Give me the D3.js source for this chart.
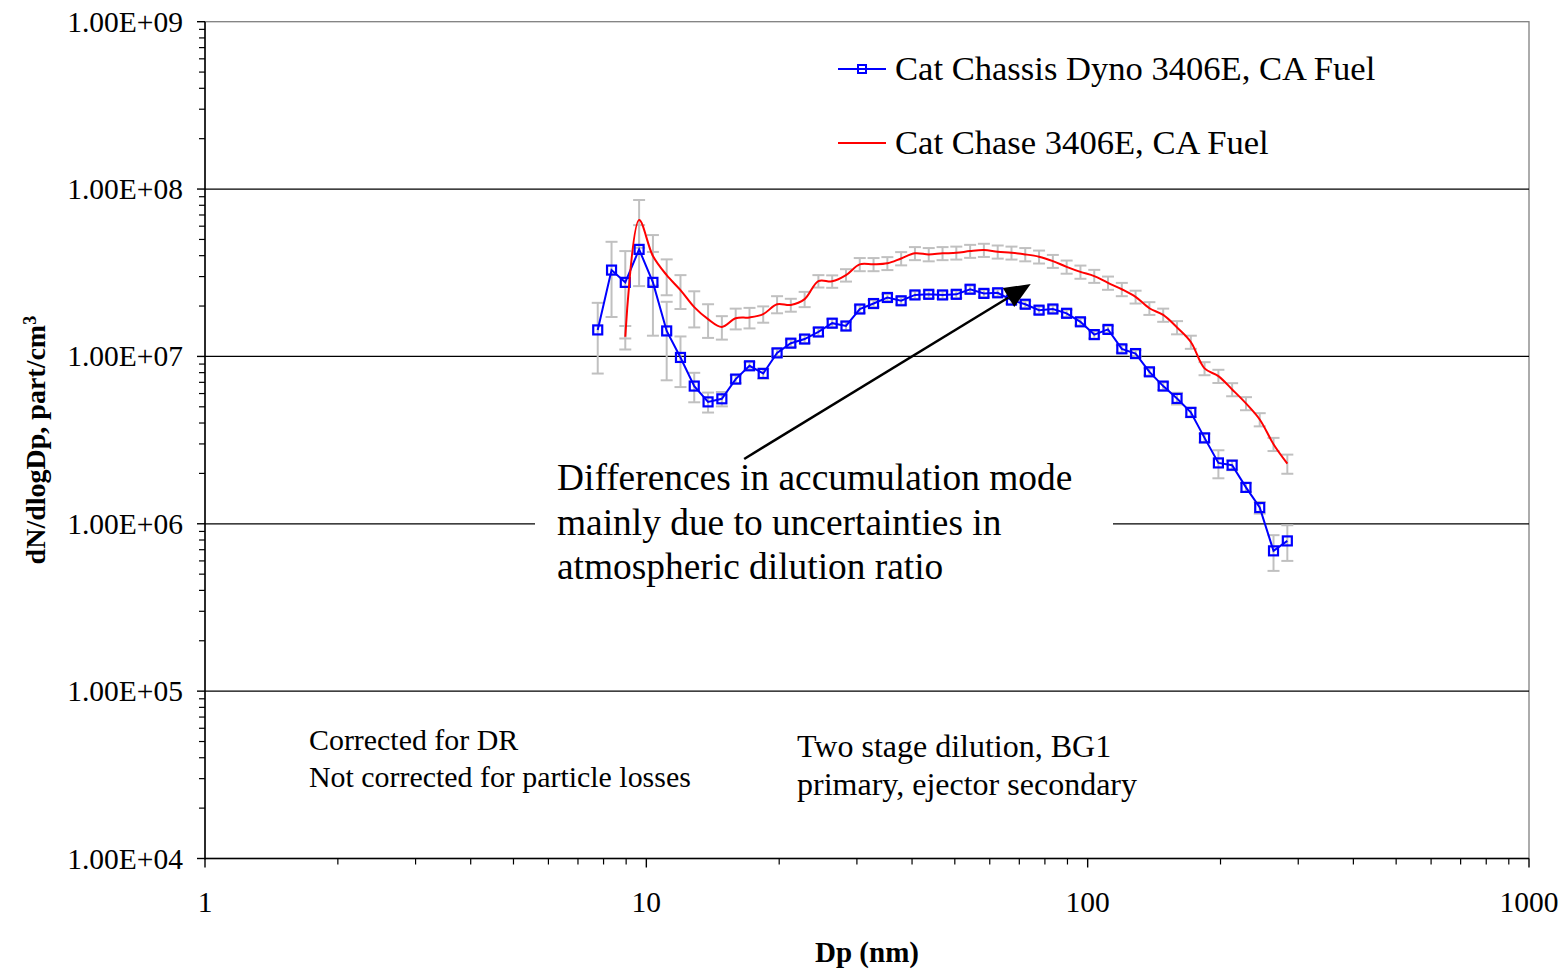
<!DOCTYPE html>
<html>
<head>
<meta charset="utf-8">
<script src="https://cdn.jsdelivr.net/npm/d3@7"></script>
<style>
  html, body { margin: 0; padding: 0; background: #fff; }
  svg { display: block; }
  text { font-family: "Liberation Serif", "Times New Roman", serif; fill: #000; }
</style>
</head>
<body>
<svg id="chart" width="1567" height="969"></svg>
<script>
// ---------------- data ----------------
const diameters = [7.76, 8.34, 8.96, 9.63, 10.35, 11.12, 11.95, 12.84, 13.80, 14.83, 15.94, 17.13, 18.40, 19.78, 21.25, 22.84, 24.54, 26.37, 28.34, 30.45, 32.72, 35.17, 37.79, 40.61, 43.64, 46.90, 50.39, 54.16, 58.19, 62.54, 67.20, 72.21, 77.60, 83.39, 89.61, 96.30, 103.5, 111.2, 119.5, 128.4, 138.0, 148.3, 159.4, 171.3, 184.0, 197.8, 212.5, 228.4, 245.4, 263.7, 283.4];

const dynoValues = [1.44e7, 3.28e7, 2.77e7, 4.36e7, 2.77e7, 1.42e7, 9.86e6, 6.65e6, 5.35e6, 5.58e6, 7.32e6, 8.79e6, 7.91e6, 1.05e7, 1.20e7, 1.27e7, 1.40e7, 1.58e7, 1.52e7, 1.92e7, 2.07e7, 2.25e7, 2.15e7, 2.33e7, 2.35e7, 2.33e7, 2.35e7, 2.52e7, 2.38e7, 2.40e7, 2.17e7, 2.05e7, 1.89e7, 1.92e7, 1.81e7, 1.61e7, 1.35e7, 1.45e7, 1.11e7, 1.04e7, 8.09e6, 6.65e6, 5.61e6, 4.63e6, 3.26e6, 2.31e6, 2.24e6, 1.65e6, 1.25e6, 6.89e5, 7.90e5];
const dynoErrors = [6.5e6, 1.56e7, 1.49e7, 1.73e7, 1.44e7, 7.0e6, 3.3e6, 1.33e6, 7.3e5, 5.5e5, 4.0e5, 4.5e5, 5.5e5, 6.0e5, 6.0e5, 7.0e5, 8.0e5, 9.0e5, 9.0e5, 1.0e6, 1.0e6, 1.1e6, 1.1e6, 1.2e6, 1.2e6, 1.2e6, 1.2e6, 1.3e6, 1.2e6, 1.2e6, 1.1e6, 1.0e6, 9.5e5, 9.5e5, 9.0e5, 8.0e5, 7.0e5, 7.0e5, 5.5e5, 5.0e5, 4.0e5, 3.5e5, 4.5e5, 3.0e5, 2.0e5, 4.4e5, 1.5e5, 1.0e5, 1.0e5, 1.66e5, 1.9e5];

const chaseValues = [null, null, 1.31e7, 6.53e7, 3.98e7, 3.06e7, 2.49e7, 1.97e7, 1.67e7, 1.50e7, 1.69e7, 1.71e7, 1.79e7, 2.05e7, 2.03e7, 2.20e7, 2.82e7, 2.81e7, 3.06e7, 3.55e7, 3.55e7, 3.60e7, 3.85e7, 4.13e7, 4.07e7, 4.13e7, 4.16e7, 4.26e7, 4.32e7, 4.22e7, 4.16e7, 4.07e7, 3.94e7, 3.71e7, 3.43e7, 3.20e7, 3.02e7, 2.75e7, 2.52e7, 2.27e7, 1.94e7, 1.77e7, 1.49e7, 1.22e7, 8.48e6, 7.63e6, 6.35e6, 5.24e6, 4.20e6, 2.99e6, 2.29e6];
const chaseErrors = [null, null, 2.1e6, 2.07e7, 1.33e7, 7.4e6, 5.7e6, 4.8e6, 3.8e6, 2.4e6, 2.4e6, 2.4e6, 2.0e6, 2.4e6, 1.8e6, 2.3e6, 2.4e6, 2.4e6, 2.6e6, 3.2e6, 3.2e6, 3.2e6, 3.5e6, 3.7e6, 3.7e6, 3.7e6, 3.7e6, 3.8e6, 3.9e6, 3.8e6, 3.7e6, 3.7e6, 3.5e6, 3.3e6, 3.1e6, 2.9e6, 2.7e6, 2.5e6, 2.3e6, 2.0e6, 1.7e6, 1.6e6, 1.35e6, 1.1e6, 7.6e5, 6.9e5, 5.7e5, 4.7e5, 3.8e5, 2.7e5, 3.0e5];

const seriesNames = ["Cat Chassis Dyno 3406E, CA Fuel", "Cat Chase 3406E, CA Fuel"];
const xTickValues = [1, 10, 100, 1000];
const xTickLabels = ["1", "10", "100", "1000"];
const yTickValues = [1e4, 1e5, 1e6, 1e7, 1e8, 1e9];
const yTickLabels = ["1.00E+04", "1.00E+05", "1.00E+06", "1.00E+07", "1.00E+08", "1.00E+09"];
const xTitle = "Dp (nm)";
const yTitle = "dN/dlogDp, part/cm";
const annotationLines = ["Differences in accumulation mode", "mainly due to uncertainties in", "atmospheric dilution ratio"];
const arrowFrom = [16.66, 2.44e6];
const arrowTo = [74.3, 2.71e7];
const noteLeft = ["Corrected for DR", "Not corrected for particle losses"];
const noteRight = ["Two stage dilution, BG1", "primary, ejector secondary"];

(function () {
// ---------------- layout ----------------
const svg = d3.select("#chart");
const pL = 205, pR = 1529, pT = 21.7, pB = 858.5;
const x = d3.scaleLog().domain([1, 1000]).range([pL, pR]);
const y = d3.scaleLog().domain([1e4, 1e9]).range([pB, pT]);

const BLUE = "#0000ff", RED = "#ff0000", GREY = "#c0c0c0";

// plot border (grey)
svg.append("rect").attr("x", pL).attr("y", pT).attr("width", pR - pL).attr("height", pB - pT)
  .attr("fill", "#fff").attr("stroke", "#808080").attr("stroke-width", 1.3);

// gridlines
svg.append("g").selectAll("line").data(yTickValues.filter(v => v > 1e4 && v < 1e9)).join("line")
  .attr("x1", pL).attr("x2", pR).attr("y1", d => y(d)).attr("y2", d => y(d))
  .attr("stroke", "#000").attr("stroke-width", 1.2);

// y axis
const yMinor = [];
for (let e = 4; e < 9; e++) for (let m = 2; m <= 9; m++) yMinor.push(m * Math.pow(10, e));
const yAxis = svg.append("g");
yAxis.append("line").attr("x1", pL).attr("x2", pL).attr("y1", pT).attr("y2", pB + 1).attr("stroke", "#000").attr("stroke-width", 1.5);
yAxis.selectAll(".ymin").data(yMinor).join("line").attr("class", "ymin")
  .attr("x1", pL - 6).attr("x2", pL).attr("y1", d => y(d)).attr("y2", d => y(d)).attr("stroke", "#000").attr("stroke-width", 1.2);
yAxis.selectAll(".ymaj").data(yTickValues).join("line").attr("class", "ymaj")
  .attr("x1", pL - 8).attr("x2", pL).attr("y1", d => y(d)).attr("y2", d => y(d)).attr("stroke", "#000").attr("stroke-width", 1.4);
yAxis.selectAll("text").data(yTickValues).join("text")
  .attr("x", 183).attr("y", d => y(d)).attr("dy", "0.34em").attr("text-anchor", "end")
  .style("font-size", "29.5px").text((d, i) => yTickLabels[i]);

// x axis
const xMinor = [];
for (let e = 0; e < 3; e++) for (let m = 2; m <= 9; m++) xMinor.push(m * Math.pow(10, e));
const xAxis = svg.append("g");
xAxis.append("line").attr("x1", pL).attr("x2", pR).attr("y1", pB).attr("y2", pB).attr("stroke", "#000").attr("stroke-width", 1.5);
xAxis.selectAll(".xmin").data(xMinor).join("line").attr("class", "xmin")
  .attr("x1", d => x(d)).attr("x2", d => x(d)).attr("y1", pB).attr("y2", pB + 6).attr("stroke", "#000").attr("stroke-width", 1.2);
xAxis.selectAll(".xmaj").data(xTickValues).join("line").attr("class", "xmaj")
  .attr("x1", d => x(d)).attr("x2", d => x(d)).attr("y1", pB).attr("y2", pB + 9).attr("stroke", "#000").attr("stroke-width", 1.4);
xAxis.selectAll("text").data(xTickValues).join("text")
  .attr("x", d => x(d)).attr("y", 912).attr("text-anchor", "middle")
  .style("font-size", "29.5px").text((d, i) => xTickLabels[i]);

// axis titles
svg.append("text").attr("x", (pL + pR) / 2).attr("y", 962).attr("text-anchor", "middle")
  .style("font-size", "29px").style("font-weight", "bold").text(xTitle);
const yt = svg.append("text").attr("transform", `translate(45,${(pT + pB) / 2}) rotate(-90)`)
  .attr("text-anchor", "middle").style("font-size", "28px").style("font-weight", "bold");
yt.append("tspan").text(yTitle);
yt.append("tspan").attr("dy", "-0.5em").style("font-size", "18px").text("3");

// ---------------- data marks ----------------
const dyno = diameters.map((d, i) => ({ x: d, v: dynoValues[i], e: dynoErrors[i] }));
const chase = diameters.map((d, i) => ({ x: d, v: chaseValues[i], e: chaseErrors[i] })).filter(p => p.v != null);

function errorBars(g, data) {
  const cap = 6;
  const grp = g.append("g").attr("stroke", GREY).attr("stroke-width", 2);
  data.forEach(p => {
    const lo = Math.max(p.v - p.e, 1e4), hi = p.v + p.e;
    const cx = x(p.x);
    grp.append("line").attr("x1", cx).attr("x2", cx).attr("y1", y(hi)).attr("y2", y(lo));
    grp.append("line").attr("x1", cx - cap).attr("x2", cx + cap).attr("y1", y(hi)).attr("y2", y(hi));
    grp.append("line").attr("x1", cx - cap).attr("x2", cx + cap).attr("y1", y(lo)).attr("y2", y(lo));
  });
}
const marks = svg.append("g");
errorBars(marks, dyno);
errorBars(marks, chase);

const blueLine = d3.line().x(d => x(d.x)).y(d => y(d.v));
marks.append("path").datum(dyno).attr("d", blueLine).attr("fill", "none").attr("stroke", BLUE).attr("stroke-width", 2);
marks.selectAll(".mk").data(dyno).join("rect").attr("class", "mk")
  .attr("x", d => x(d.x) - 4.5).attr("y", d => y(d.v) - 4.5).attr("width", 9).attr("height", 9)
  .attr("fill", "none").attr("stroke", BLUE).attr("stroke-width", 2.2);

const redLine = d3.line().x(d => x(d.x)).y(d => y(d.v)).curve(d3.curveCatmullRom.alpha(0.5));
marks.append("path").datum(chase).attr("d", redLine).attr("fill", "none").attr("stroke", RED).attr("stroke-width", 2);

// ---------------- annotation ----------------
svg.append("rect").attr("x", 535).attr("y", 452).attr("width", 578).attr("height", 140).attr("fill", "#fff");
svg.append("g").selectAll("text").data(annotationLines).join("text")
  .attr("x", 557).attr("y", (d, i) => 490 + i * 44.5)
  .style("font-size", "37.4px").text(d => d);

// arrow
const ax1 = x(arrowFrom[0]), ay1 = y(arrowFrom[1]), ax2 = x(arrowTo[0]), ay2 = y(arrowTo[1]);
const ang = Math.atan2(ay2 - ay1, ax2 - ax1);
const headLen = 26, headW = 11;
const bx = ax2 - headLen * Math.cos(ang), by = ay2 - headLen * Math.sin(ang);
svg.append("line").attr("x1", ax1).attr("y1", ay1).attr("x2", bx).attr("y2", by).attr("stroke", "#000").attr("stroke-width", 2.5);
svg.append("path").attr("d", d3.line()([
  [ax2, ay2],
  [bx + headW * Math.sin(ang), by - headW * Math.cos(ang)],
  [bx - headW * Math.sin(ang), by + headW * Math.cos(ang)]
])).attr("fill", "#000");

// notes
svg.append("g").selectAll("text").data(noteLeft).join("text")
  .attr("x", 309).attr("y", (d, i) => 750 + i * 37).style("font-size", "29.9px").text(d => d);
svg.append("g").selectAll("text").data(noteRight).join("text")
  .attr("x", 797).attr("y", (d, i) => 757 + i * 38).style("font-size", "32px").text(d => d);

// ---------------- legend ----------------
const lg = svg.append("g");
lg.append("line").attr("x1", 838).attr("x2", 886).attr("y1", 69).attr("y2", 69).attr("stroke", BLUE).attr("stroke-width", 2);
lg.append("rect").attr("x", 862 - 4).attr("y", 69 - 4).attr("width", 8).attr("height", 8).attr("fill", "none").attr("stroke", BLUE).attr("stroke-width", 2);
lg.append("text").attr("x", 895).attr("y", 80).style("font-size", "34.6px").text(seriesNames[0]);
lg.append("line").attr("x1", 838).attr("x2", 886).attr("y1", 143).attr("y2", 143).attr("stroke", RED).attr("stroke-width", 2);
lg.append("text").attr("x", 895).attr("y", 154).style("font-size", "34.6px").text(seriesNames[1]);
})();
</script>
</body>
</html>
